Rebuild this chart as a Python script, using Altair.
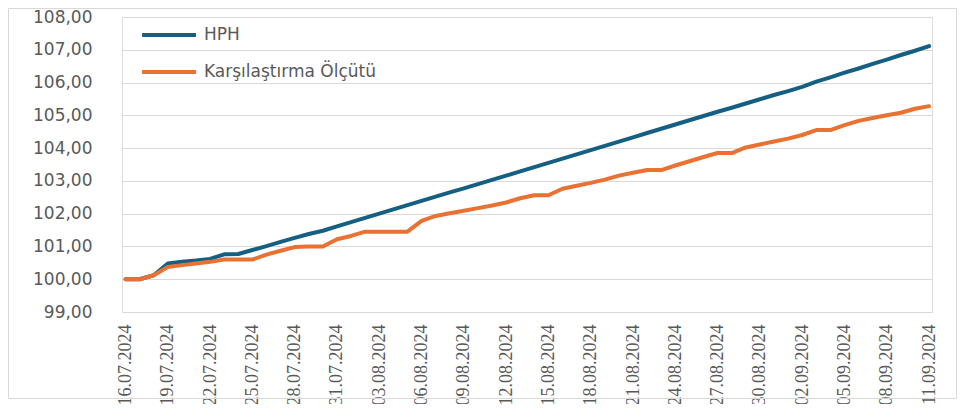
import altair as alt
import pandas as pd

dates = pd.date_range("2024-07-16", "2024-09-11", freq="D").strftime("%Y-%m-%d").tolist()

hph = [100.00, 100.00, 100.12, 100.48, 100.53, 100.57, 100.62, 100.76, 100.77, 100.89,
       101.01, 101.14, 101.26, 101.38, 101.48, 101.61, 101.74, 101.87, 102.00, 102.13,
       102.26, 102.39, 102.52, 102.65, 102.77, 102.90, 103.03, 103.16, 103.29, 103.42,
       103.55, 103.68, 103.81, 103.94, 104.07, 104.20, 104.33, 104.46, 104.59, 104.72,
       104.85, 104.98, 105.11, 105.23, 105.36, 105.49, 105.62, 105.74, 105.87, 106.03,
       106.16, 106.30, 106.43, 106.57, 106.70, 106.84, 106.97, 107.11]

bench = [100.00, 100.00, 100.12, 100.37, 100.43, 100.48, 100.53, 100.60, 100.60, 100.60,
         100.75, 100.87, 100.98, 101.00, 101.00, 101.22, 101.32, 101.45, 101.45, 101.45,
         101.45, 101.78, 101.93, 102.01, 102.09, 102.17, 102.25, 102.34, 102.47, 102.56,
         102.56, 102.76, 102.85, 102.94, 103.04, 103.16, 103.25, 103.33, 103.33, 103.47,
         103.60, 103.73, 103.85, 103.85, 104.02, 104.11, 104.20, 104.29, 104.40, 104.55,
         104.55, 104.70, 104.83, 104.92, 105.00, 105.08, 105.20, 105.28]

series_names = ["HPH", "Karşılaştırma Ölçütü"]
colors = ["#156082", "#E97132"]
tick_dates = dates[::3]
y_ticks = [99, 100, 101, 102, 103, 104, 105, 106, 107, 108]

df = pd.DataFrame({
    "date": dates * 2,
    "value": hph + bench,
    "series": [series_names[0]] * len(dates) + [series_names[1]] * len(dates),
})


def dt(s, hours=0):
    y, m, d = s.split("-")
    return alt.DateTime(year=int(y), month=int(m), date=int(d), hours=hours, utc=True)


x_values = [dt(s) for s in tick_dates]
dom = [alt.DateTime(year=2024, month=7, date=15, hours=18, utc=True),
       alt.DateTime(year=2024, month=9, date=11, hours=5, utc=True)]

W, H = 810, 295

lines = alt.Chart(df).mark_line(strokeWidth=4, strokeCap="round", strokeJoin="round").encode(
    x=alt.X("date:T",
            scale=alt.Scale(type="utc", domain=dom),
            axis=alt.Axis(values=x_values, format="%d.%m.%Y", labelAngle=270, title=None,
                          ticks=False, grid=False, domain=False,
                          labelFont="Liberation Sans Narrow", labelFontSize=18,
                          labelColor="#595959", labelPadding=12, labelOverlap=False)),
    y=alt.Y("value:Q",
            scale=alt.Scale(domain=[99, 108], nice=False, zero=False),
            axis=alt.Axis(values=y_ticks,
                          labelExpr="replace(format(datum.value, '.2f'), '.', ',')",
                          title=None, ticks=False, domain=False,
                          gridColor="#d9d9d9", gridWidth=1,
                          labelFont="DejaVu Sans", labelFontSize=17,
                          labelColor="#595959", labelPadding=30)),
    color=alt.Color("series:N",
                    scale=alt.Scale(domain=series_names, range=colors),
                    legend=alt.Legend(title=None, orient="none", legendX=18, legendY=-11,
                                      symbolType="stroke", symbolSize=2900,
                                      symbolStrokeWidth=4, labelFont="DejaVu Sans",
                                      labelFontSize=17, labelColor="#595959",
                                      labelOffset=6, labelLimit=400, rowPadding=-14,
                                      direction="vertical")),
)

border = alt.Chart(pd.DataFrame({"a": [0]})).mark_rect(
    fill=None, stroke="#d9d9d9", strokeWidth=1
).encode(
    x=alt.value(-113.5), x2=alt.value(W + 24.5),
    y=alt.value(-8.5), y2=alt.value(H + 86.5),
)

chart = alt.layer(border, lines).properties(
    width=W, height=H,
    autosize=alt.AutoSizeParams(type="none"),
    padding={"left": 114, "top": 9, "right": 25, "bottom": 92},
).configure_view(stroke=None).configure(background="white")

chart.save("out.html", embed_options={"renderer": "svg", "actions": False})
